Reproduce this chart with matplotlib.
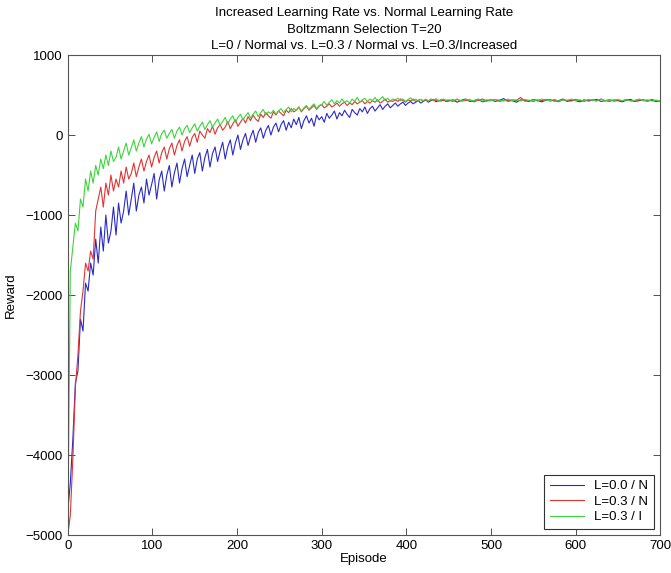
#coding: utf-8
import numpy as np
import matplotlib.pyplot as plt

plt.rcParams['font.family'] = ['Liberation Sans', 'DejaVu Sans']

# Episodios: a cada 3 ate 447, depois a cada 5 ate 700
ep_early = np.arange(0, 450, 3)
ep_late = np.arange(450, 701, 5)

# L=0.0 / taxa normal
blue_early = [-4700, -4350, -3800, -3100, -2950, -2300, -2450, -1850, -1950, -1600,
              -1750, -1300, -1600, -1150, -1450, -1000, -1350, -1200, -900, -1250,
              -850, -1100, -950, -700, -1000, -800, -600, -950, -750, -650,
              -850, -550, -750, -620, -480, -800, -560, -450, -700, -500,
              -380, -650, -470, -350, -600, -420, -300, -520, -380, -250,
              -480, -300, -220, -450, -280, -180, -400, -230, -150, -330,
              -200, -90, -300, -150, -60, -250, -100, 0, -180, -60,
              20, -130, -20, 60, -90, 30, 90, -40, 60, 120,
              0, 100, 150, 40, 130, 180, 60, 160, 90, 200,
              130, 220, 80, 180, 240, 150, 210, 110, 250, 190,
              230, 160, 270, 210, 250, 300, 200, 280, 240, 310,
              260, 220, 320, 280, 250, 330, 290, 350, 270, 330,
              360, 300, 340, 380, 320, 360, 390, 340, 370, 400,
              360, 390, 410, 370, 400, 420, 390, 410, 430, 400,
              420, 440, 410, 430, 445, 415, 435, 425, 440, 420]
blue_late = [425, 440, 410, 435, 450, 420, 430, 445, 415, 430,
             440, 420, 435, 455, 425, 430, 410, 440, 430, 420,
             445, 430, 415, 435, 440, 425, 430, 450, 420, 435,
             430, 415, 440, 425, 435, 445, 420, 430, 440, 425,
             430, 415, 435, 445, 420, 430, 440, 425, 435, 420,
             430]

# L=0.3 / taxa normal
red_early = [-5000, -4750, -4050, -3150, -2750, -2200, -1950, -1600, -1700, -1450,
             -1550, -950, -800, -650, -900, -600, -750, -500, -700, -550,
             -650, -450, -600, -400, -550, -480, -350, -520, -400, -300,
             -450, -330, -250, -400, -280, -200, -350, -220, -150, -300,
             -170, -100, -250, -130, -60, -200, -80, -20, -140, -30,
             20, -90, 50, 0, -40, 80, 30, 110, 10, 90,
             130, 60, 100, 170, 80, 140, 190, 110, 160, 210,
             150, 230, 180, 250, 200, 170, 260, 220, 280, 240,
             210, 290, 250, 300, 270, 240, 310, 280, 330, 290,
             310, 350, 290, 330, 360, 310, 340, 370, 320, 360,
             380, 340, 360, 390, 350, 370, 400, 360, 390, 410,
             370, 400, 380, 420, 390, 410, 430, 390, 420, 400,
             430, 410, 440, 400, 420, 450, 410, 430, 420, 440,
             420, 450, 430, 410, 440, 425, 450, 420, 435, 445,
             425, 440, 420, 450, 430, 440, 420, 445, 430, 435]
red_late = [435, 420, 445, 425, 430, 440, 415, 435, 450, 425,
            430, 445, 420, 435, 425, 440, 430, 470, 425, 435,
            420, 440, 430, 445, 425, 435, 415, 440, 430, 425,
            445, 430, 420, 440, 435, 425, 450, 430, 420, 440,
            435, 425, 445, 430, 420, 440, 430, 425, 445, 430,
            425]

# L=0.3 / taxa aumentada
green_early = [-5000, -1700, -1400, -1100, -1200, -800, -900, -550, -700, -450,
               -600, -380, -500, -300, -420, -250, -380, -200, -330, -280,
               -150, -300, -200, -100, -250, -160, -60, -200, -100, -20,
               -150, -50, 10, -110, -30, 40, -80, 20, 60, -40,
               20, 70, -40, 50, 100, 0, 80, 120, 30, 90,
               140, 50, 110, 160, 70, 130, 180, 100, 150, 200,
               120, 170, 220, 140, 200, 240, 160, 220, 260, 190,
               240, 280, 210, 260, 300, 230, 280, 320, 250, 290,
               270, 310, 260, 300, 330, 280, 320, 350, 290, 330,
               310, 350, 300, 340, 370, 320, 360, 390, 330, 370,
               380, 420, 370, 410, 440, 390, 430, 400, 450, 410,
               430, 400, 450, 420, 470, 410, 440, 460, 420, 450,
               430, 470, 420, 450, 480, 430, 460, 420, 450, 440,
               460, 430, 450, 420, 445, 465, 430, 450, 425, 445,
               430, 450, 425, 445, 435, 455, 425, 440, 450, 430]
green_late = [440, 430, 450, 425, 445, 435, 430, 450, 425, 440,
              430, 445, 435, 425, 450, 430, 440, 425, 445, 430,
              440, 425, 450, 435, 430, 445, 425, 440, 435, 450,
              430, 440, 425, 445, 435, 430, 450, 425, 440, 430,
              445, 430, 440, 425, 435, 450, 430, 440, 425, 435,
              430]

series = [
    ('L=0.0 / N', blue_early + blue_late, '#2a2ac8'),
    ('L=0.3 / N', red_early + red_late, '#e03434'),
    ('L=0.3 / I', green_early + green_late, '#3cd43c'),
]
episodes = np.concatenate([ep_early, ep_late])

fig = plt.figure(figsize=(6.71, 5.73), dpi=100)
ax = fig.add_axes([0.101, 0.066, 0.883, 0.838])

for label, vals, color in series:
    ax.plot(episodes, vals, color=color, linewidth=0.8, label=label)

ax.set_xlim(0, 700)
ax.set_ylim(-5000, 1000)
ax.set_xticks(np.arange(0, 701, 100))
ax.set_yticks(np.arange(-5000, 1001, 1000))
ax.tick_params(direction='in', top=True, right=True, length=5, width=0.6,
               labelsize=9.5, colors='#333333', labelcolor='black')
for spine in ax.spines.values():
    spine.set_color('#555555')
    spine.set_linewidth(0.8)

ax.set_title('Increased Learning Rate vs. Normal Learning Rate\n'
             'Boltzmann Selection T=20\n'
             'L=0 / Normal vs. L=0.3 / Normal vs. L=0.3/Increased',
             fontsize=9.5, linespacing=1.5, pad=4)
ax.set_xlabel('Episode', fontsize=9.5, labelpad=1)
ax.set_ylabel('Reward', fontsize=9.5, labelpad=6)

leg = ax.legend(loc='lower right', fontsize=9.5, fancybox=False, framealpha=1,
                edgecolor='#333333', borderaxespad=0.5, handlelength=2.6,
                labelspacing=0.25, borderpad=0.4)
leg.get_frame().set_linewidth(0.8)

plt.savefig('out.png', dpi=100)
